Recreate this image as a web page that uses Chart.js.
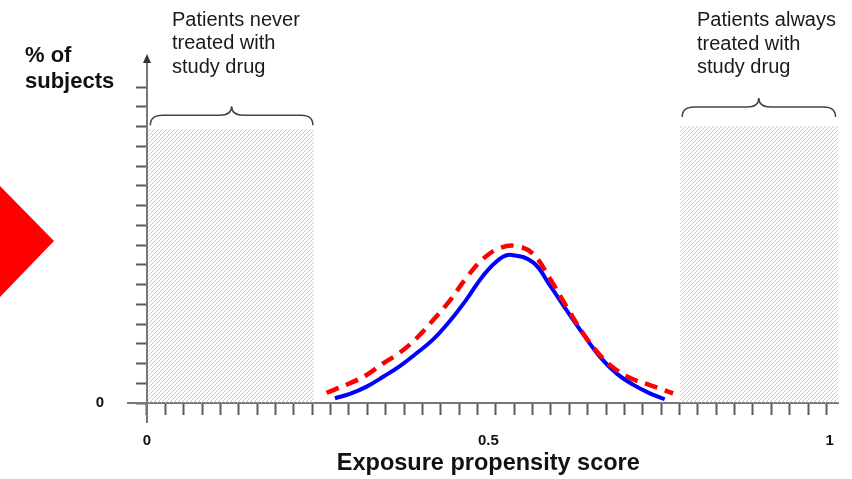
<!DOCTYPE html>
<html>
<head>
<meta charset="utf-8">
<title>Exposure propensity score</title>
<script src="https://cdn.jsdelivr.net/npm/chart.js@4.4.0/dist/chart.umd.min.js"></script>
<style>
  html, body { margin: 0; padding: 0; background: #fff; }
  #wrap { width: 852px; height: 479px; }
</style>
</head>
<body>
<div id="wrap"><canvas id="chart"></canvas></div>
<script>
// solid blue curve
const blueX = [0.2753, 0.2972, 0.3217, 0.3460, 0.3704, 0.3949, 0.4192, 0.4436, 0.4681, 0.4924, 0.5168, 0.5340, 0.5656, 0.5900, 0.6145, 0.6388, 0.6633, 0.6877, 0.7120, 0.7365, 0.7584];
const blueY = [0.24, 0.46, 0.83, 1.33, 1.87, 2.52, 3.22, 4.15, 5.25, 6.45, 7.30, 7.50, 7.12, 5.97, 4.71, 3.50, 2.35, 1.50, 0.93, 0.49, 0.19];

// dashed red curve
const redX = [0.2631, 0.2972, 0.3217, 0.3460, 0.3704, 0.3949, 0.4192, 0.4436, 0.4681, 0.4924, 0.5168, 0.5413, 0.5656, 0.5900, 0.6145, 0.6388, 0.6633, 0.6877, 0.7120, 0.7365, 0.7706];
const redY = [0.52, 1.00, 1.42, 2.01, 2.55, 3.28, 4.20, 5.18, 6.35, 7.30, 7.85, 7.95, 7.55, 6.31, 4.88, 3.53, 2.43, 1.67, 1.20, 0.91, 0.49];

// hatched blocks (never / always treated)
const neverX = [0.002, 0.002, 0.2445, 0.2445];
const neverY = [0, 13.87, 13.87, 0];
const alwaysX = [0.781, 0.781, 1.013, 1.013];
const alwaysY = [0, 14.03, 14.03, 0];

const xLabels = [0, 0.5, 1];
const xTickStep = 0.0269;
const xTickCount = 38;
const yTickCount = 17;

const neverText = ['Patients never', 'treated with', 'study drug'];
const alwaysText = ['Patients always', 'treated with', 'study drug'];
const yTitle = ['% of', 'subjects'];
const xTitle = 'Exposure propensity score';

const FONT = "'Liberation Sans', Arial, sans-serif";

function toPoints(xs, ys) {
  return xs.map((v, i) => ({ x: v, y: ys[i] }));
}

function makeHatch() {
  const c = document.createElement('canvas');
  c.width = 4; c.height = 4;
  const g = c.getContext('2d');
  g.strokeStyle = '#c2c2c2';
  g.lineWidth = 0.9;
  g.beginPath();
  g.moveTo(0, 4); g.lineTo(4, 0);
  g.moveTo(-1, 1); g.lineTo(1, -1);
  g.moveTo(3, 5); g.lineTo(5, 3);
  g.stroke();
  return g.createPattern(c, 'repeat');
}

function drawBrace(ctx, x1, x2, yEnd) {
  const xc = (x1 + x2) / 2;
  const ym = yEnd - 10;
  const r = 12;
  ctx.beginPath();
  ctx.moveTo(x1, yEnd);
  ctx.quadraticCurveTo(x1, ym, x1 + r, ym);
  ctx.lineTo(xc - r, ym);
  ctx.quadraticCurveTo(xc, ym, xc, ym - 9);
  ctx.quadraticCurveTo(xc, ym, xc + r, ym);
  ctx.lineTo(x2 - r, ym);
  ctx.quadraticCurveTo(x2, ym, x2, yEnd);
  ctx.stroke();
}

const decorations = {
  id: 'decorations',
  beforeDraw(chart) {
    const ctx = chart.ctx;
    ctx.save();
    ctx.fillStyle = '#ff0000';
    ctx.beginPath();
    ctx.moveTo(0, 186);
    ctx.lineTo(54, 241);
    ctx.lineTo(0, 297);
    ctx.closePath();
    ctx.fill();
    ctx.restore();
  },
  afterDraw(chart) {
    const { ctx, chartArea } = chart;
    const x = chart.scales.x, y = chart.scales.y;
    const x0 = x.getPixelForValue(0);
    ctx.save();

    // arrow head on the y axis
    ctx.fillStyle = '#333';
    ctx.beginPath();
    ctx.moveTo(x0 - 4, chartArea.top + 1);
    ctx.lineTo(x0 + 4, chartArea.top + 1);
    ctx.lineTo(x0, chartArea.top - 8);
    ctx.closePath();
    ctx.fill();

    // braces over the hatched blocks
    ctx.strokeStyle = '#444';
    ctx.lineWidth = 1.5;
    drawBrace(ctx, x.getPixelForValue(neverX[0]) + 2, x.getPixelForValue(neverX[2]) - 1, y.getPixelForValue(neverY[1]) - 4);
    drawBrace(ctx, x.getPixelForValue(alwaysX[0]) + 2, x.getPixelForValue(alwaysX[2]) - 3, y.getPixelForValue(alwaysY[1]) - 9);

    // y zero label
    ctx.fillStyle = '#111';
    ctx.font = 'bold 15px ' + FONT;
    ctx.textAlign = 'right';
    ctx.textBaseline = 'middle';
    ctx.fillText('0', x0 - 43, y.getPixelForValue(0));

    // annotation text
    ctx.fillStyle = '#1a1a1a';
    ctx.textAlign = 'left';
    ctx.textBaseline = 'alphabetic';
    ctx.font = '20px ' + FONT;
    neverText.forEach((t, i) => ctx.fillText(t, 172, 25.5 + i * 23.5));
    alwaysText.forEach((t, i) => ctx.fillText(t, 697, 26 + i * 23.5));

    // axis titles
    ctx.fillStyle = '#111';
    ctx.font = 'bold 22px ' + FONT;
    yTitle.forEach((t, i) => ctx.fillText(t, 25, 61.5 + i * 26.8));
    ctx.textAlign = 'center';
    ctx.font = 'bold 23.5px ' + FONT;
    ctx.fillText(xTitle, (x.getPixelForValue(0) + x.getPixelForValue(1)) / 2, 470);
    ctx.restore();
  }
};

const hatch = makeHatch();

new Chart(document.getElementById('chart'), {
  type: 'line',
  data: {
    datasets: [
      {
        data: toPoints(neverX, neverY),
        fill: 'origin',
        backgroundColor: hatch,
        borderWidth: 0,
        pointRadius: 0,
        tension: 0
      },
      {
        data: toPoints(alwaysX, alwaysY),
        fill: 'origin',
        backgroundColor: hatch,
        borderWidth: 0,
        pointRadius: 0,
        tension: 0
      },
      {
        data: toPoints(redX, redY),
        borderColor: '#ff0000',
        borderWidth: 4.5,
        borderDash: [13, 8],
        pointRadius: 0,
        fill: false,
        tension: 0.4
      },
      {
        data: toPoints(blueX, blueY),
        borderColor: '#0000ff',
        borderWidth: 4,
        pointRadius: 0,
        fill: false,
        tension: 0.4
      }
    ]
  },
  options: {
    responsive: true,
    maintainAspectRatio: false,
    animation: false,
    layout: { padding: { left: 128, right: 13, top: 62, bottom: 57 } },
    plugins: { legend: { display: false }, tooltip: { enabled: false } },
    scales: {
      x: {
        type: 'linear',
        min: -0.0278,
        max: 1.0132,
        position: { y: 0 },
        border: { color: '#777', width: 2 },
        grid: {
          drawOnChartArea: false,
          tickLength: 11,
          tickWidth: 2,
          tickColor: (c) => (c.tick && c.tick.label !== '' && c.tick.value !== 0) ? 'rgba(0,0,0,0)' : '#5a5a5a'
        },
        afterBuildTicks: (scale) => {
          const ticks = [];
          for (let k = 0; k < xTickCount; k++) ticks.push({ value: k * xTickStep });
          xLabels.forEach(v => { if (v !== 0) ticks.push({ value: v }); });
          scale.ticks = ticks;
        },
        ticks: {
          autoSkip: false,
          maxRotation: 0,
          padding: 18,
          color: '#111',
          font: { family: FONT, size: 15, weight: 'bold' },
          callback: (v) => xLabels.includes(v) ? String(v) : ''
        }
      },
      y: {
        type: 'linear',
        min: -0.962,
        max: 17.27,
        position: { x: 0 },
        border: { color: '#777', width: 2 },
        grid: {
          drawOnChartArea: false,
          tickLength: 10,
          tickWidth: 2,
          tickColor: '#5a5a5a'
        },
        afterBuildTicks: (scale) => {
          const ticks = [];
          for (let k = 0; k < yTickCount; k++) ticks.push({ value: k });
          scale.ticks = ticks;
        },
        ticks: {
          autoSkip: false,
          display: true,
          callback: () => ''
        }
      }
    }
  },
  plugins: [decorations]
});
</script>
</body>
</html>
